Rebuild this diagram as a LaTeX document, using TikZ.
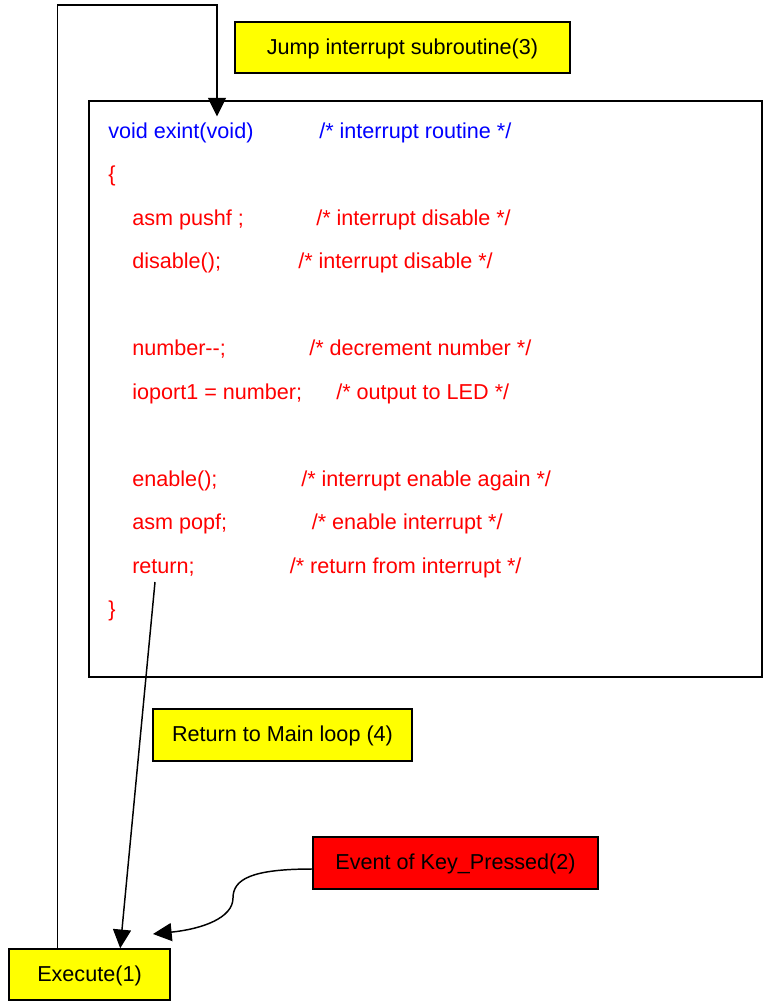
\documentclass[tikz,border=0pt]{standalone}
\usepackage{fontspec}
\setmainfont{Liberation Sans}
\usepackage{xcolor}
\usepackage{tikz}
\usetikzlibrary{arrows.meta, calc}

\begin{document}
\begin{tikzpicture}[x=0.75pt, y=-0.75pt,
    caixa/.style={draw=black, line width=1.1pt, inner sep=0pt, text height=1em, text depth=0pt, font=\fontsize{16.2}{19}\selectfont},
    codigo/.style={anchor=base west, inner sep=0pt, font=\fontsize{16.2}{19}\selectfont},
    seta/.style={-{Triangle[length=14pt, width=13.5pt]}, line width=1.1pt}]
% --- ROTINA DE INTERRUPCAO: FLUXO ENTRE AS CAIXAS ---
\definecolor{amarelo}{HTML}{FFFF00}
\definecolor{vermelho}{HTML}{FF0000}
\definecolor{azul}{HTML}{0000FF}
\useasboundingbox (0,0) rectangle (763,1002);

% LAYER 1: Caixa do codigo e rotulos
\node[caixa, minimum width=504.8pt, minimum height=432pt] (rotina) at (425.5,389) {};
\node[caixa, fill=amarelo, minimum width=251.3pt, minimum height=38.3pt] (salto) at (402.5,47.5) {Jump interrupt subroutine(3)};
\node[caixa, fill=amarelo, minimum width=194.3pt, minimum height=39pt] (retorno) at (282.5,735) {Return to Main loop (4)};
\node[caixa, fill=vermelho, minimum width=213.8pt, minimum height=39pt] (evento) at (455.5,863) {Event of Key\_Pressed(2)};
\node[caixa, fill=amarelo, minimum width=120.8pt, minimum height=38.3pt] (executa) at (89.5,974.5) {Execute(1)};

% LAYER 2: Linhas do codigo
\node[codigo, text=azul] (linha0) at (108,138) {void exint(void)};
\node[codigo, text=azul] (nota0) at (319,138) {/* interrupt routine */};
\node[codigo, text=vermelho] (linha1) at (108,181.5) {\{};
\node[codigo, text=vermelho] (linha2) at (132,225) {asm pushf ;};
\node[codigo, text=vermelho] (nota2) at (316,225) {/* interrupt disable */};
\node[codigo, text=vermelho] (linha3) at (132,268.5) {disable();};
\node[codigo, text=vermelho] (nota3) at (298,268.5) {/* interrupt disable */};
\node[codigo, text=vermelho] (linha5) at (132,355.5) {number-{}-;};
\node[codigo, text=vermelho] (nota5) at (309,355.5) {/* decrement number */};
\node[codigo, text=vermelho] (linha6) at (132,399) {ioport1 = number;};
\node[codigo, text=vermelho] (nota6) at (336,399) {/* output to LED */};
\node[codigo, text=vermelho] (linha8) at (132,486) {enable();};
\node[codigo, text=vermelho] (nota8) at (301,486) {/* interrupt enable again */};
\node[codigo, text=vermelho] (linha9) at (132,529.5) {asm popf;};
\node[codigo, text=vermelho] (nota9) at (311.5,529.5) {/* enable interrupt */};
\node[codigo, text=vermelho] (linha10) at (132,573) {return;};
\node[codigo, text=vermelho] (nota10) at (289.5,573) {/* return from interrupt */};
\node[codigo, text=vermelho] (linha11) at (108,616.5) {\}};

% LAYER 3: Setas
\coordinate (topo) at (217,5);
\coordinate (entrada) at (217,116.5);
\coordinate (saida) at (155,582);
\coordinate (alvo) at (153,934);
\draw[line width=1.1pt, -{Triangle[length=14pt, width=13.5pt]}] ($(executa.north west)!0.304!(executa.north east)$) |- (topo) -- (entrada);
\draw[seta] (saida) -- ($(executa.north west)!0.689!(executa.north east)$);
\draw[seta] ([yshift=-4.5pt]evento.west) .. controls (252,869) and (233,879) .. (233,898)
  .. controls (233,918) and (202,929) .. (alvo);
\end{tikzpicture}
\end{document}
